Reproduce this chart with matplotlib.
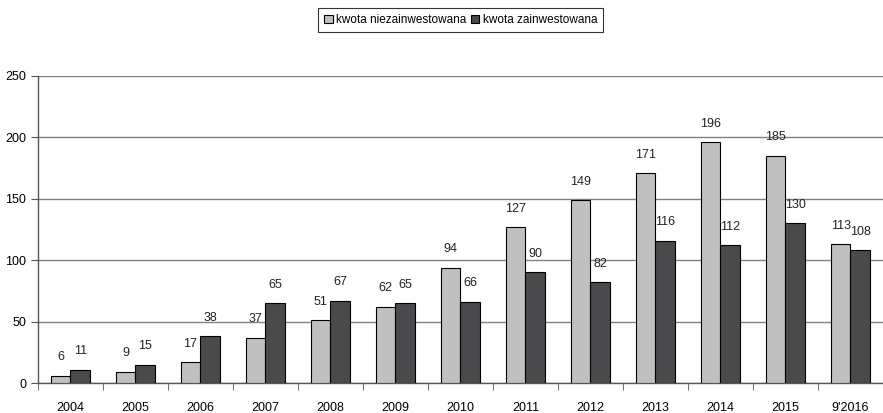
import matplotlib
matplotlib.use("Agg")
import matplotlib.pyplot as plt
import numpy as np

plt.rcParams['font.family'] = ['Liberation Sans', 'DejaVu Sans']

categories = ["2004", "2005", "2006", "2007", "2008", "2009", "2010", "2011",
              "2012", "2013", "2014", "2015", "9'2016"]
niezainwestowana = [6, 9, 17, 37, 51, 62, 94, 127, 149, 171, 196, 185, 113]
zainwestowana = [11, 15, 38, 65, 67, 65, 66, 90, 82, 116, 112, 130, 108]
series_names = ["kwota niezainwestowana", "kwota zainwestowana"]

fig = plt.figure(figsize=(8.83, 4.13), dpi=100)
ax = fig.add_axes([0.043, 0.0726, 0.957, 0.7434])

x = np.arange(len(categories))
w = 0.305
b1 = ax.bar(x - w/2, niezainwestowana, w, color="#c0c0c0", edgecolor="black",
            linewidth=0.8, label=series_names[0], zorder=3)
b2 = ax.bar(x + w/2, zainwestowana, w, color="#4a4a4c", edgecolor="black",
            linewidth=0.8, label=series_names[1], zorder=3)

for bars in (b1, b2):
    for r in bars:
        ax.annotate(f"{int(r.get_height())}", (r.get_x() + r.get_width()/2, r.get_height()),
                    xytext=(0, 9), textcoords="offset points", ha="center", va="bottom",
                    fontsize=9, color="#222222")

ax.set_xlim(-0.5, len(categories) - 0.5)
ax.set_ylim(0, 250)
ax.set_yticks([0, 50, 100, 150, 200, 250])
ax.yaxis.grid(True, color="#808080", linewidth=1.0, zorder=0)
ax.set_axisbelow(True)

ax.set_xticks(x)
ax.set_xticklabels(categories)
ax.tick_params(axis="x", which="major", length=0, pad=14, labelsize=9)
ax.set_xticks(np.arange(len(categories) + 1) - 0.5, minor=True)
ax.tick_params(axis="x", which="minor", length=5, direction="out", color="#555555")
ax.tick_params(axis="y", length=5, direction="out", labelsize=9, color="#555555")

for s in ("top", "right"):
    ax.spines[s].set_visible(False)
for s in ("left", "bottom"):
    ax.spines[s].set_color("#555555")
    ax.spines[s].set_linewidth(1.0)

leg = fig.legend(loc="center", bbox_to_anchor=(0.522, 0.952), ncol=2, frameon=True,
                 fontsize=8.5, handlelength=0.7, handleheight=0.7, handletextpad=0.3,
                 columnspacing=0.4, borderpad=0.5, fancybox=False)
leg.get_frame().set_edgecolor("black")
leg.get_frame().set_linewidth(0.8)

fig.savefig("out.png", dpi=100)
